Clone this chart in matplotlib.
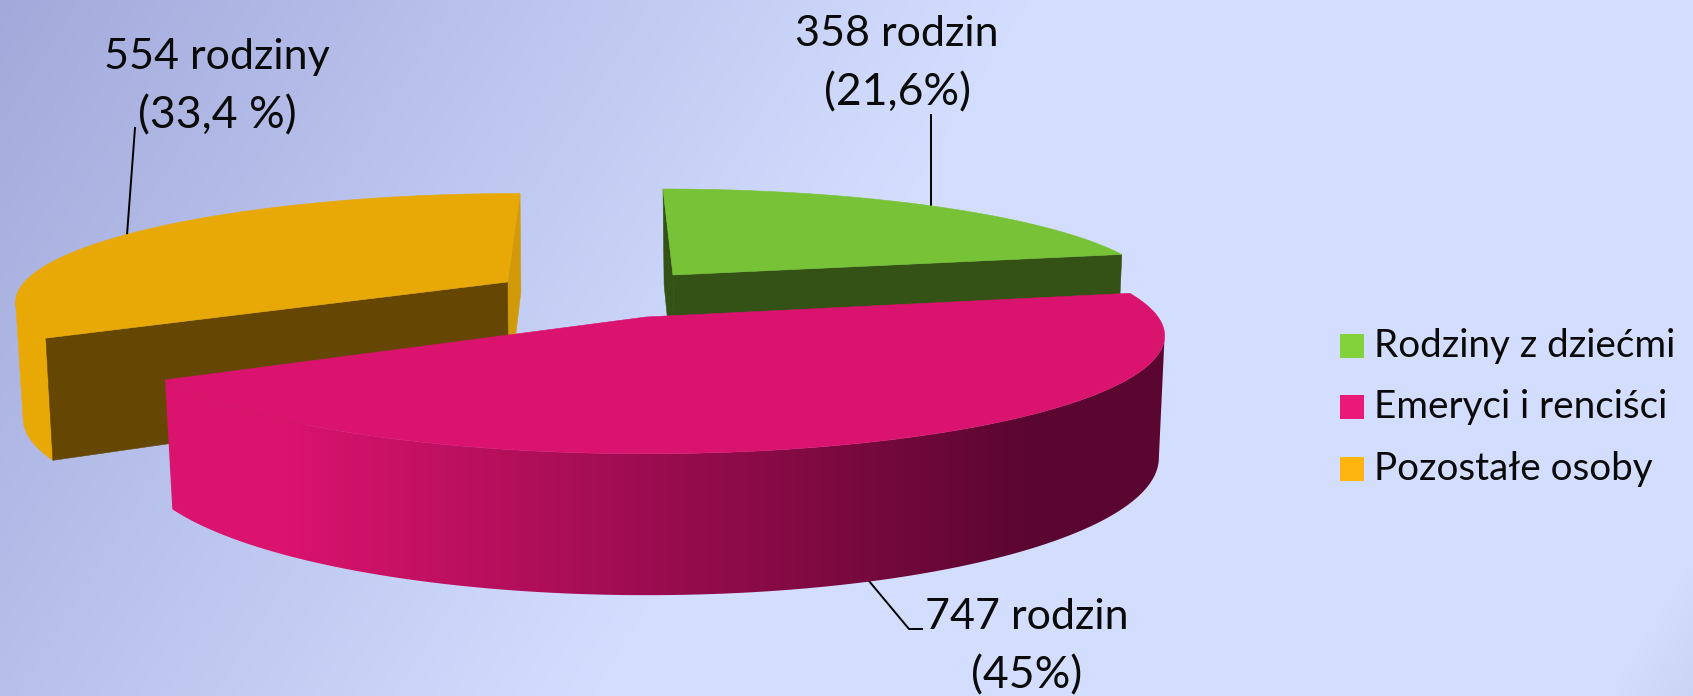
import numpy as np
import matplotlib
matplotlib.use("Agg")
import matplotlib.pyplot as plt
from matplotlib.colors import LinearSegmentedColormap
from matplotlib.patches import Polygon, Rectangle

plt.rcParams['font.family'] = ['Lato', 'DejaVu Sans']

categories = ["Rodziny z dziećmi", "Emeryci i renciści", "Pozostałe osoby"]
families = [358, 747, 554]
label_counts = ["358 rodzin", "747 rodzin", "554 rodziny"]
label_shares = ["(21,6%)", "(45%)", "(33,4 %)"]

W, H = 1693, 696
PERSP = 0.159
KX, KY = 0.987, 1.164

# centre x, centre y, radius x, radius y, shear, drop of the bottom face
GREEN_GEOM = (673, 275, 477.5, 99.7, -11.6, 110)
PINK_GEOM = (646, 317, 512, 115, 0, 119)
ORANGE_GEOM = (507.5, 282, 483, 102.6, 14.5, 113)


def top_point(theta, geom):
    """Project angle (clockwise from the top) onto the upper face."""
    cx, cy, rx, ry, shear, _ = geom
    x, y = np.sin(theta), np.cos(theta)
    d = 1 + PERSP * y
    return cx + (rx * x + shear * y) / d, cy - ry * y / d


def bottom_point(theta, geom):
    cx, cy, _, _, _, drop = geom
    x, y = top_point(theta, geom)
    return cx + KX * (x - cx) + 1, cy + KY * (y - cy) + drop


def apex(geom):
    return geom[0], geom[1]


def apex_bottom(geom):
    return geom[0] + 1, geom[1] + geom[5]


def arc(a, b, geom, func=top_point):
    t = np.linspace(a, b, 240)
    return np.column_stack(func(t, geom))


def add_poly(ax, pts, color, z):
    p = Polygon(pts, closed=True, facecolor=color, edgecolor=color, lw=0.4, zorder=z)
    ax.add_patch(p)
    return p


fig = plt.figure(figsize=(W / 100, H / 100), dpi=100)
ax = fig.add_axes([0, 0, 1, 1])
ax.set_xlim(0, W)
ax.set_ylim(H, 0)
ax.axis('off')

# background
yy, xx = np.mgrid[0:H, 0:W]
s = xx + 0.63 * yy
t = np.clip(s / 1030.0, 0, 1)[..., None]
c0 = np.array([0xA2, 0xAA, 0xDB]) / 255
c1 = np.array([0xD3, 0xDE, 0xFF]) / 255
bg = c0 + (c1 - c0) * t
corner = np.clip((s - 2045) / 90.0, 0, 1)[..., None]
c2 = np.array([0xC8, 0xD4, 0xF0]) / 255
bg = bg + (c2 - bg) * corner
ax.imshow(bg, extent=(0, W, H, 0), aspect='auto', zorder=0)

edges = np.cumsum([0] + families) / sum(families) * 2 * np.pi
a_green, b_green = edges[0], edges[1]
a_pink, b_pink = edges[1], edges[2]
a_orange, b_orange = edges[2], edges[3]

# leader lines
ax.plot([931, 931], [115, 206], color='black', lw=1.4, zorder=1)
ax.plot([135, 127], [128, 235], color='black', lw=1.4, zorder=1)
ax.plot([869, 909, 922], [581, 629, 629], color='black', lw=1.4, zorder=1)

# green slice
g = GREEN_GEOM
add_poly(ax, [top_point(a_green, g), apex(g), apex_bottom(g), bottom_point(a_green, g)], '#345216', 2)
add_poly(ax, [apex(g), top_point(b_green, g), bottom_point(b_green, g), apex_bottom(g)], '#345216', 2)
add_poly(ax, np.vstack([[apex(g)], arc(a_green, b_green, g)]), '#78C237', 3)

# orange slice
o = ORANGE_GEOM
add_poly(ax, [top_point(b_orange, o), apex(o), apex_bottom(o), bottom_point(b_orange, o)], '#D09A0A', 2)
sweep = np.linspace(a_orange, b_orange, 400)
left = sweep[np.argmin(top_point(sweep, o)[0])]
add_poly(ax, np.vstack([arc(a_orange, left, o), arc(a_orange, left, o, bottom_point)[::-1]]), '#E8A906', 2)
add_poly(ax, [apex(o), top_point(a_orange, o), bottom_point(a_orange, o), apex_bottom(o)], '#654703', 3)
add_poly(ax, np.vstack([[apex(o)], arc(a_orange, b_orange, o)]), '#E8A906', 4)

# pink slice, side wall fades out to the right
p = PINK_GEOM
sweep = np.linspace(a_pink, b_pink, 400)
right = sweep[np.argmax(top_point(sweep, p)[0])]
rim = np.vstack([arc(right, b_pink, p), arc(right, b_pink, p, bottom_point)[::-1]])
rim_patch = Polygon(rim, closed=True, facecolor='none', edgecolor='none', zorder=5)
ax.add_patch(rim_patch)
cmap = LinearSegmentedColormap.from_list('wall', [(0, '#DA136E'), (0.17, '#DA136E'), (0.85, '#5A0630'), (1, '#5A0630')])
wall = ax.imshow(np.linspace(0, 1, 512)[None, :], cmap=cmap, extent=(100, 1200, 620, 300),
                 aspect='auto', zorder=5)
wall.set_clip_path(rim_patch)
add_poly(ax, np.vstack([[apex(p)], arc(a_pink, b_pink, p)]), '#DA136E', 6)

ax.set_xlim(0, W)
ax.set_ylim(H, 0)

# data labels
label_x = [897, 1027, 217]
label_base = [(46, 105), (629, 688), (69, 128)]
for count, share, lx, (y1, y2) in zip(label_counts, label_shares, label_x, label_base):
    ax.text(lx, y1, count, ha='center', va='baseline', fontsize=31, color='#0A0A0A', zorder=8)
    ax.text(lx, y2, share, ha='center', va='baseline', fontsize=32, color='#0A0A0A', zorder=8)

# legend
legend_colors = ['#82D33A', '#EC1878', '#FFB50F']
legend_top = [334, 395, 457]
for name, col, top in zip(categories, legend_colors, legend_top):
    ax.add_patch(Rectangle((1340, top), 24, 24, facecolor=col, edgecolor='none', zorder=8))
    ax.text(1374, top + 23, name, ha='left', va='baseline', fontsize=27.8, color='#0A0A0A', zorder=8)

fig.savefig('out.png', dpi=100)
